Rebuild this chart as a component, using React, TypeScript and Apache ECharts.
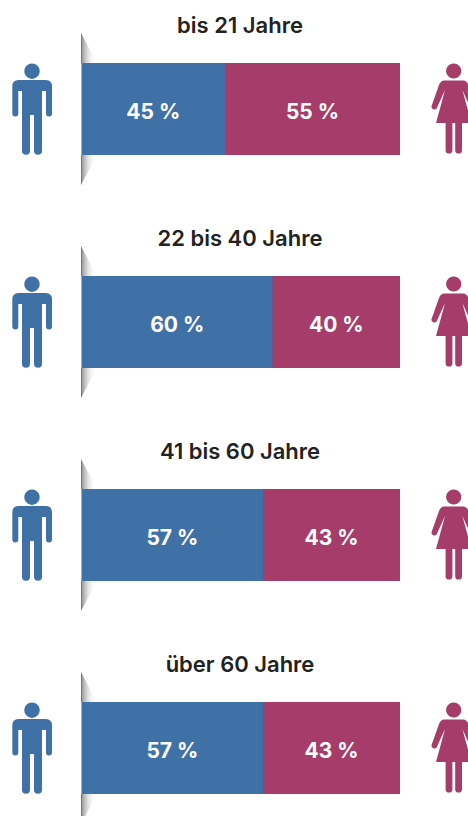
import React, { useEffect, useRef } from "react";
import * as echarts from "echarts";

const ageGroups = ["bis 21 Jahre", "22 bis 40 Jahre", "41 bis 60 Jahre", "über 60 Jahre"];
const maleShare = [45, 60, 57, 57];
const femaleShare = [55, 40, 43, 43];
const BLUE = "#3f71a7";
const MAGENTA = "#a53c69";
const FONT = "Inter, sans-serif";
const ROW = 213;
const BAR_TOP = 63;
const BAR_H = 92;

const manPath =
  "M32 63.5 A7.7 7.7 0 1 1 31.99 63.5 Z " +
  "M18.5 80 H45.8 Q52 80 52 86.5 V113.5 A3 3 0 0 1 46 113.5 V91 H42 V150.7 A4 4 0 0 1 34 150.7 V115 H30 V150.7 A4 4 0 0 1 22 150.7 V91 H18.3 V113.5 A3 3 0 0 1 12.3 113.5 V86.5 Q12.3 80 18.5 80 Z";
const womanPath =
  "M453.7 63.4 A7.6 7.6 0 1 1 453.69 63.4 Z " +
  "M444 80.4 H463.4 Q466.6 80.4 468.4 85 L476 106.5 A3 3 0 0 1 470.8 108.6 L462.4 90 L471.4 123 H462 V150.2 A3.4 3.4 0 0 1 455.2 150.2 V123 H452.4 V150.2 A3.4 3.4 0 0 1 445.6 150.2 V123 H436 L445 90 L436.6 108.6 A3 3 0 0 1 431.4 106.5 L439 85 Q440.8 80.4 444 80.4 Z";

echarts.graphic.registerShape("manIcon", echarts.graphic.extendPath(manPath as any, {}) as any);
echarts.graphic.registerShape("womanIcon", echarts.graphic.extendPath(womanPath as any, {}) as any);

export default function App() {
  const ref = useRef<HTMLDivElement>(null);
  useEffect(() => {
    document.body.style.margin = "0";
    document.body.style.overflow = "hidden";
    const chart = echarts.init(ref.current!, null, { renderer: "svg" });
    const shade = () => ({
      type: "linear", x: 0, y: 0, x2: 1, y2: 0,
      colorStops: [
        { offset: 0, color: "rgba(70,70,70,0.85)" },
        { offset: 0.1, color: "rgba(90,90,90,0.55)" },
        { offset: 0.5, color: "rgba(150,150,150,0.22)" },
        { offset: 1, color: "rgba(255,255,255,0)" },
      ],
    });
    const graphic: any[] = [];
    ageGroups.forEach((_, i) => {
      const dy = i * ROW;
      graphic.push(
        { type: "manIcon", x: 0, y: dy, style: { fill: BLUE } },
        { type: "womanIcon", x: 0, y: dy, style: { fill: MAGENTA } },
        { type: "polygon", shape: { points: [[81, BAR_TOP - 30 + dy], [97, BAR_TOP + dy], [81, BAR_TOP + dy]] }, style: { fill: shade() } },
        { type: "polygon", shape: { points: [[81, BAR_TOP + BAR_H + 30 + dy], [97, BAR_TOP + BAR_H + dy], [81, BAR_TOP + BAR_H + dy]] }, style: { fill: shade() } },
      );
    });
    const label = {
      show: true, position: "inside", offset: [0, 2], color: "#fff", fontFamily: FONT,
      fontWeight: 700, fontSize: 21, formatter: (p: any) => `${p.value} %`,
    };
    chart.setOption({
      animation: false,
      title: ageGroups.map((text, i) => ({
        text, left: 240, top: 14 + i * ROW, textAlign: "center", padding: 0,
        textStyle: { fontFamily: FONT, fontWeight: 600, fontSize: 22, color: "#222" },
      })),
      grid: ageGroups.map((_, i) => ({
        show: true, backgroundColor: MAGENTA, borderWidth: 0,
        left: 81.7, width: 318.3, top: BAR_TOP + i * ROW, height: BAR_H,
      })),
      xAxis: ageGroups.map((_, i) => ({ type: "value", gridIndex: i, min: 0, max: 100, show: false })),
      yAxis: ageGroups.map((g, i) => ({ type: "category", gridIndex: i, data: [g], show: false })),
      series: ageGroups.flatMap((_, i) => [
        { type: "bar", xAxisIndex: i, yAxisIndex: i, stack: `s${i}`, barWidth: "100%", data: [maleShare[i]], itemStyle: { color: BLUE }, label },
        { type: "bar", xAxisIndex: i, yAxisIndex: i, stack: `s${i}`, barWidth: "100%", data: [femaleShare[i]], itemStyle: { color: MAGENTA }, label },
      ]),
      graphic,
    });
    return () => chart.dispose();
  }, []);
  return <div ref={ref} style={{ width: 468, height: 816 }} />;
}
